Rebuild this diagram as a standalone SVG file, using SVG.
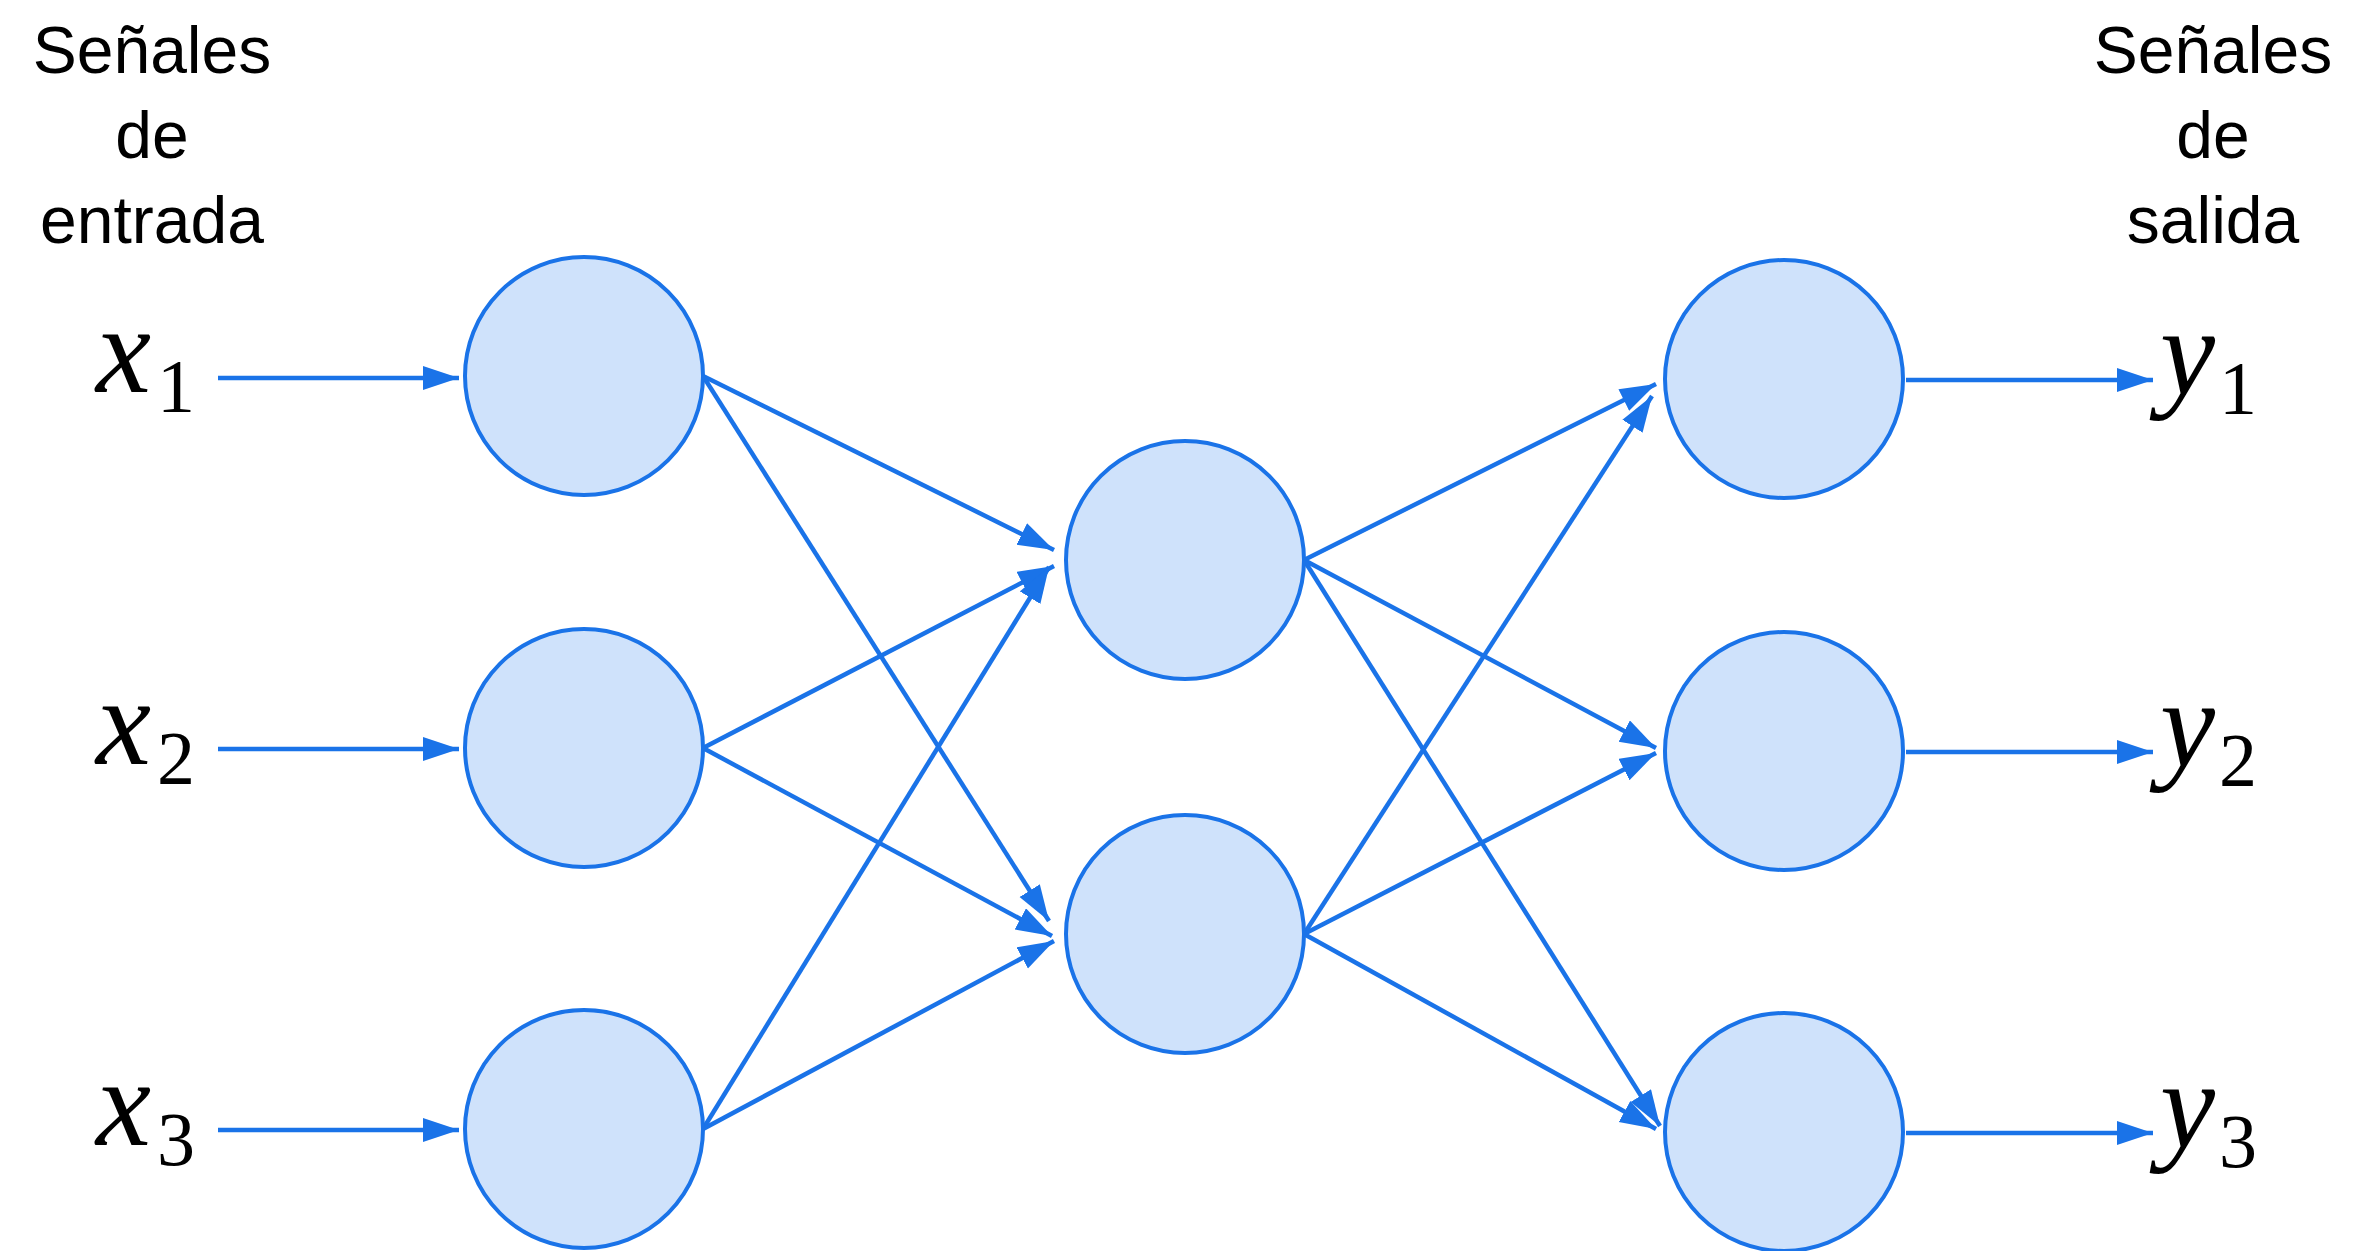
<svg xmlns="http://www.w3.org/2000/svg" width="2361" height="1251" viewBox="0 0 2361 1251">
<style>
.n{fill:#cfe2fb;stroke:#1a73e8;stroke-width:4}
.e{stroke:#1a73e8;stroke-width:4.5;fill:none;marker-end:url(#a)}
.t{font-family:"Liberation Sans",Arial,sans-serif;font-size:66px;text-anchor:middle;fill:#000}
.m{font-family:"Liberation Serif","Times New Roman",serif;fill:#000}
.v{font-style:italic;font-size:124px}
.s{font-size:76px}
</style>
<defs>
<marker id="a" markerUnits="userSpaceOnUse" markerWidth="40" markerHeight="30" refX="36" refY="12" orient="auto">
<path d="M0,0 L36,12 L0,24 Z" fill="#1a73e8"/>
</marker>
</defs>
<rect width="2361" height="1251" fill="#fff"/>
<g id="labels">
<text class="t" x="152" y="73">Señales<tspan x="152" dy="85">de</tspan><tspan x="152" dy="85">entrada</tspan></text>
<text class="t" x="2213" y="73">Señales<tspan x="2213" dy="85">de</tspan><tspan x="2213" dy="85">salida</tspan></text>
<text class="m" x="96" y="392"><tspan class="v">x</tspan><tspan class="s" dx="6" dy="20">1</tspan></text>
<text class="m" x="96" y="764"><tspan class="v">x</tspan><tspan class="s" dx="6" dy="20">2</tspan></text>
<text class="m" x="96" y="1145"><tspan class="v">x</tspan><tspan class="s" dx="6" dy="20">3</tspan></text>
<text class="m" x="2160" y="394"><tspan class="v">y</tspan><tspan class="s" dx="4" dy="20">1</tspan></text>
<text class="m" x="2160" y="766"><tspan class="v">y</tspan><tspan class="s" dx="4" dy="20">2</tspan></text>
<text class="m" x="2160" y="1147"><tspan class="v">y</tspan><tspan class="s" dx="4" dy="20">3</tspan></text>
</g>
<g id="connectors">
<line class="e" x1="218" y1="378" x2="459" y2="378"/>
<line class="e" x1="218" y1="749" x2="459" y2="749"/>
<line class="e" x1="218" y1="1130" x2="459" y2="1130"/>
<line class="e" x1="1906" y1="380" x2="2153" y2="380"/>
<line class="e" x1="1906" y1="752" x2="2153" y2="752"/>
<line class="e" x1="1906" y1="1133" x2="2153" y2="1133"/>
<line class="e" x1="703" y1="376" x2="1054" y2="550"/>
<line class="e" x1="703" y1="376" x2="1049" y2="921"/>
<line class="e" x1="703" y1="748" x2="1054" y2="566"/>
<line class="e" x1="703" y1="748" x2="1052" y2="936"/>
<line class="e" x1="703" y1="1129" x2="1049" y2="567"/>
<line class="e" x1="703" y1="1129" x2="1054" y2="941"/>
<line class="e" x1="1304" y1="560" x2="1656" y2="384"/>
<line class="e" x1="1304" y1="560" x2="1656" y2="748"/>
<line class="e" x1="1304" y1="560" x2="1660" y2="1126"/>
<line class="e" x1="1304" y1="934" x2="1652" y2="396"/>
<line class="e" x1="1304" y1="934" x2="1656" y2="753"/>
<line class="e" x1="1304" y1="934" x2="1656" y2="1129"/>
</g>
<g id="i1"><circle class="n" cx="584" cy="376" r="119"/></g>
<g id="i2"><circle class="n" cx="584" cy="748" r="119"/></g>
<g id="i3"><circle class="n" cx="584" cy="1129" r="119"/></g>
<g id="h1"><circle class="n" cx="1185" cy="560" r="119"/></g>
<g id="h2"><circle class="n" cx="1185" cy="934" r="119"/></g>
<g id="o1"><circle class="n" cx="1784" cy="379" r="119"/></g>
<g id="o2"><circle class="n" cx="1784" cy="751" r="119"/></g>
<g id="o3"><circle class="n" cx="1784" cy="1132" r="119"/></g>
</svg>
